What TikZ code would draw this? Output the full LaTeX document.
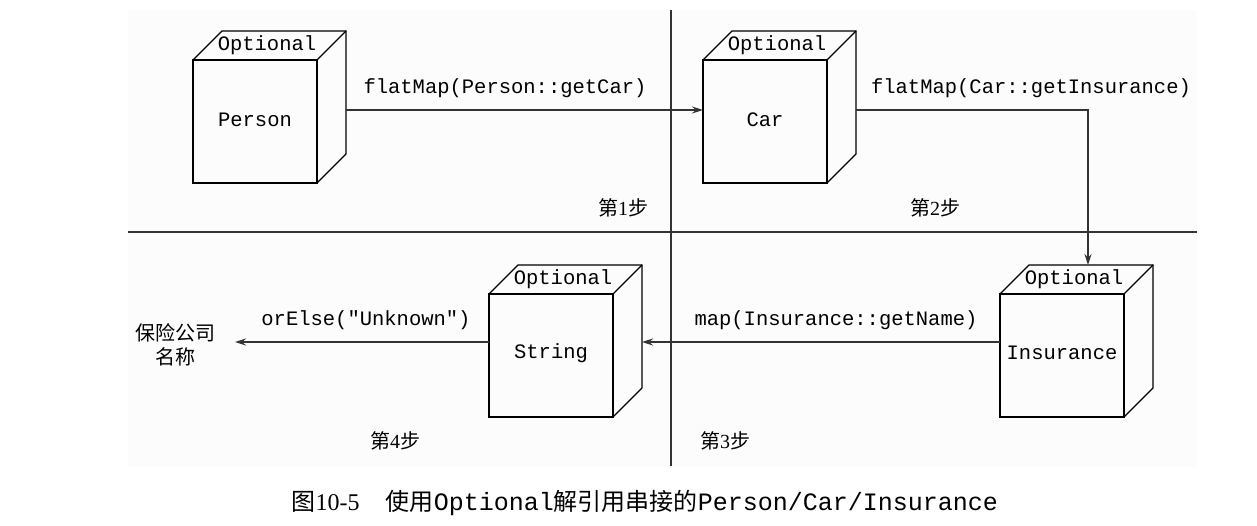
\documentclass[tikz,border=0pt]{standalone}
\usepackage{fontspec}
\setmainfont{Liberation Serif}
\setmonofont{Liberation Mono}
\newfontfamily\cjk{Noto Sans CJK SC}
\usetikzlibrary{arrows.meta}
\tikzset{
  mono/.style={font=\fontsize{20.5}{22}\ttfamily},
  zh/.style={font=\fontsize{20}{24}\selectfont},
  conn/.style={line width=1.3pt,draw=black!80},
  arr/.style={conn,-{Stealth[length=11pt,width=7pt]}},
  cube/.style={line width=1.3pt}
}
\newcommand{\drawcube}[3]{% name, left x, top y of front face
  \coordinate (#1) at (#2+62,#3+62);
  \draw[cube] (#2,#3) rectangle (#2+124,#3+123);
  \draw[cube] (#2,#3) -- (#2+29,#3-29) -- (#2+153,#3-29) -- (#2+153,#3+94) -- (#2+124,#3+123);
  \draw[cube] (#2+124,#3) -- (#2+153,#3-29);
  \node[mono] (#1o) at (#2+74,#3-15) {Optional};
}
\begin{document}
\begin{tikzpicture}[x=1pt,y=-1pt]
\useasboundingbox (0,0) rectangle (1257,525);
\fill[black!1] (128,10) rectangle (1197,467);
\draw[conn] (128,232) -- (1197,232);
\draw[conn] (671,10) -- (671,466);
\drawcube{p}{193}{60}
\drawcube{c}{703}{60}
\drawcube{i}{1000}{294}
\drawcube{s}{489}{294}
\node[mono] at (255,120) {Person};
\node[mono] at (765,120) {Car};
\node[mono] at (1062,353) {Insurance};
\node[mono] at (551,353) {String};
\coordinate (pr) at (346,110);
\coordinate (cl) at (703,110);
\coordinate (cr) at (856,110);
\coordinate (it) at (1088,265);
\coordinate (il) at (1000,342);
\coordinate (sr) at (642,342);
\coordinate (sl) at (489,342);
\node[zh,align=center] (res) at (175,345) {{\cjk 保险公司}\\{\cjk 名称}};
\coordinate (rr) at (235,342);
\draw[arr] (pr) -- (cl);
\node[mono] at (505,88) {flatMap(Person::getCar)};
\draw[arr] (cr) -| (it);
\node[mono] at (1031,88) {flatMap(Car::getInsurance)};
\draw[arr] (il) -- (sr);
\node[mono] at (836,320) {map(Insurance::getName)};
\draw[arr] (sl) -- (rr);
\node[mono] at (366,320) {orElse("Unknown")};
\node[zh] at (623,208) {{\cjk 第}1{\cjk 步}};
\node[zh] at (935,208) {{\cjk 第}2{\cjk 步}};
\node[zh] at (395,441) {{\cjk 第}4{\cjk 步}};
\node[zh] at (725,441) {{\cjk 第}3{\cjk 步}};
\node[anchor=west,font=\fontsize{24}{28}\selectfont] at (288,503) {{\cjk 图}10-5\hspace{1.1em}{\cjk 使用}{\fontsize{25}{26}\ttfamily Optional}{\cjk 解引用串接的}{\fontsize{25}{26}\ttfamily Person/Car/Insurance}};
\end{tikzpicture}
\end{document}
